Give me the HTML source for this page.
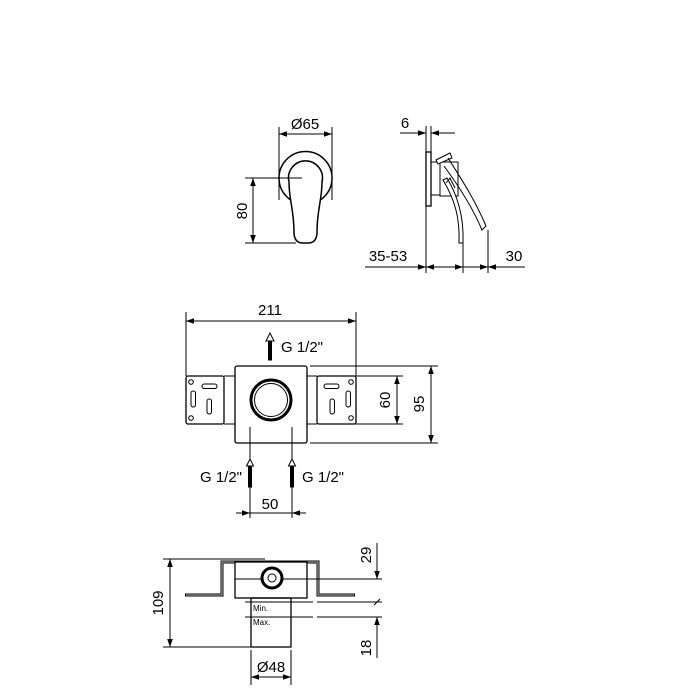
<!DOCTYPE html>
<html><head><style>body{margin:0;background:#fff}svg{display:block}text{font-family:"Liberation Sans",sans-serif;fill:#000}</style></head><body>
<svg width="700" height="700" viewBox="0 0 700 700" xmlns="http://www.w3.org/2000/svg">
<defs>
<marker id="a" viewBox="0 0 10 10" refX="10" refY="5" markerWidth="8" markerHeight="8" orient="auto-start-reverse" markerUnits="userSpaceOnUse"><path d="M0,1.5 L10,5 L0,8.5 z" fill="#000"/></marker>
</defs>
<g stroke="#000" fill="none" stroke-width="1">
<line x1="279" y1="127" x2="279" y2="200"/><line x1="332" y1="127" x2="332" y2="200"/>
<line x1="279" y1="134" x2="332" y2="134" marker-start="url(#a)" marker-end="url(#a)"/>
<circle cx="305.5" cy="178" r="26.5" stroke-width="1.5"/>
<path d="M294,232 C294,210 289,200 289,182 A17,17 0 1 1 322,182 C322,200 317,210 317,232 Q317,243 308,243 L303,243 Q294,243 294,232 Z" fill="#fff" stroke-width="1.5"/>
<line x1="245" y1="178" x2="302" y2="178"/><line x1="245" y1="243" x2="296" y2="243"/>
<line x1="253" y1="178" x2="253" y2="243" marker-start="url(#a)" marker-end="url(#a)"/>
<rect x="426" y="152" width="5" height="54" stroke-width="1.3"/>
<rect x="431" y="162" width="9" height="33"/>
<rect x="440" y="162" width="18" height="34"/>
<path d="M436,160 L450,153 L452,158 L438,164 Z" fill="#fff"/>
<path d="M448,158 C462,180 475,200 486,226 L482,230 C472,206 458,185 444,166" fill="none"/>
<path d="M443,180 C455,200 460,218 459,243 L463,243 C464,215 457,195 447,178 Z" fill="#fff"/>
<path d="M446,183 L450,178 L455,188" />
<line x1="426" y1="126" x2="426" y2="152"/><line x1="431" y1="126" x2="431" y2="152"/>
<line x1="400" y1="133" x2="426" y2="133" marker-end="url(#a)"/><line x1="455" y1="133" x2="431" y2="133" marker-end="url(#a)"/>
<line x1="426" y1="206" x2="426" y2="273"/><line x1="463" y1="243" x2="463" y2="273"/><line x1="488" y1="230" x2="488" y2="273"/>
<line x1="365" y1="267" x2="426" y2="267" marker-end="url(#a)"/>
<line x1="426" y1="267" x2="463" y2="267" marker-start="url(#a)" marker-end="url(#a)"/>
<line x1="463" y1="267" x2="488" y2="267" marker-end="url(#a)"/>
<line x1="525" y1="267" x2="488" y2="267" marker-end="url(#a)"/>
<line x1="186" y1="312" x2="186" y2="376"/><line x1="356" y1="312" x2="356" y2="376"/>
<line x1="186" y1="321" x2="356" y2="321" marker-start="url(#a)" marker-end="url(#a)"/>
<rect x="235" y="366" width="72" height="77" rx="2" stroke-width="1.3"/>
<rect x="186" y="376" width="38" height="48" rx="2" stroke-width="1.3"/>
<rect x="317" y="376" width="39" height="48" rx="2" stroke-width="1.3"/>
<line x1="224" y1="376" x2="235" y2="376"/><line x1="224" y1="424" x2="235" y2="424"/>
<line x1="307" y1="376" x2="317" y2="376"/><line x1="307" y1="424" x2="317" y2="424"/>
<circle cx="271" cy="400" r="20" stroke-width="3"/><circle cx="271" cy="400" r="16.5"/>
<circle cx="191" cy="382" r="2.3"/><circle cx="191" cy="418" r="2.3"/>
<rect x="202" y="384" width="15" height="4.5" rx="2.2"/>
<rect x="191" y="391" width="4.5" height="16" rx="2.2"/><rect x="207" y="399" width="4.5" height="15" rx="2.2"/>
<circle cx="351" cy="382" r="2.3"/><circle cx="351" cy="418" r="2.3"/>
<rect x="324" y="384" width="15" height="4.5" rx="2.2"/>
<rect x="346" y="391" width="4.5" height="16" rx="2.2"/><rect x="330" y="399" width="4.5" height="15" rx="2.2"/>
<line x1="318" y1="376" x2="403" y2="376"/><line x1="318" y1="424" x2="403" y2="424"/>
<line x1="397" y1="376" x2="397" y2="424" marker-start="url(#a)" marker-end="url(#a)"/>
<line x1="310" y1="366" x2="438" y2="366"/><line x1="310" y1="443" x2="438" y2="443"/>
<line x1="431" y1="366" x2="431" y2="443" marker-start="url(#a)" marker-end="url(#a)"/>
<line x1="250" y1="427" x2="250" y2="518"/><line x1="292" y1="427" x2="292" y2="518"/>
<line x1="236" y1="513" x2="250" y2="513" marker-end="url(#a)"/><line x1="306" y1="513" x2="292" y2="513" marker-end="url(#a)"/>
<line x1="250" y1="513" x2="292" y2="513"/>
</g>
<g stroke="#000" stroke-width="1">
<rect x="268.5" y="340" width="3" height="20" fill="#000"/>
<path d="M266,341 L270,333 L274,341 Z" fill="#fff"/>
<rect x="248.5" y="466" width="3" height="21" fill="#000"/>
<path d="M246.5,466 L250,459 L253.5,466 Z" fill="#fff"/>
<rect x="290.5" y="466" width="3" height="21" fill="#000"/>
<path d="M288.5,466 L292,459 L295.5,466 Z" fill="#fff"/>
</g>
<g stroke="#000" fill="none" stroke-width="1">
<line x1="163" y1="559" x2="265" y2="559"/><line x1="163" y1="647" x2="251" y2="647"/>
<line x1="170" y1="559" x2="170" y2="647" marker-start="url(#a)" marker-end="url(#a)"/>
<path d="M185,595 L222,595 L222,562 L318,562 L318,595 L355,595" stroke-width="3"/>
<path d="M186,595 L222,595 L222,562 L318,562 L318,595 L354,595" stroke="#fff" stroke-width="0.8"/>
<rect x="235" y="562" width="72" height="36" fill="#fff" stroke-width="1.3"/>
<line x1="235" y1="579" x2="382" y2="579"/>
<circle cx="272" cy="578" r="10" stroke-width="3" fill="#fff"/><circle cx="272" cy="578" r="4"/>
<rect x="251" y="598" width="40" height="49" stroke-width="1.3"/>
<line x1="245" y1="602" x2="313" y2="602"/><line x1="317" y1="602" x2="382" y2="602"/>
<line x1="245" y1="617" x2="313" y2="617"/><line x1="317" y1="617" x2="382" y2="617"/>
<line x1="377" y1="543" x2="377" y2="579" marker-end="url(#a)"/>
<line x1="377" y1="658" x2="377" y2="617" marker-end="url(#a)"/>
<line x1="374" y1="605" x2="380" y2="599"/>
<line x1="251" y1="650" x2="251" y2="685"/><line x1="291" y1="650" x2="291" y2="685"/>
<line x1="251" y1="677" x2="291" y2="677" marker-start="url(#a)" marker-end="url(#a)"/>
</g>
<g font-size="15">
<text x="305" y="129" text-anchor="middle">Ø65</text>
<text x="247" y="211" text-anchor="middle" transform="rotate(-90 247 211)">80</text>
<text x="405" y="128" text-anchor="middle">6</text>
<text x="388" y="261" text-anchor="middle">35-53</text>
<text x="514" y="261" text-anchor="middle">30</text>
<text x="270" y="315" text-anchor="middle">211</text>
<text x="281" y="352">G 1/2"</text>
<text x="390" y="400" text-anchor="middle" transform="rotate(-90 390 400)">60</text>
<text x="424" y="404" text-anchor="middle" transform="rotate(-90 424 404)">95</text>
<text x="242" y="482" text-anchor="end">G 1/2"</text>
<text x="302" y="482">G 1/2"</text>
<text x="270" y="509" text-anchor="middle">50</text>
<text x="163" y="603" text-anchor="middle" transform="rotate(-90 163 603)">109</text>
<text x="371" y="555" text-anchor="middle" transform="rotate(-90 371 555)">29</text>
<text x="371" y="648" text-anchor="middle" transform="rotate(-90 371 648)">18</text>
<text x="271" y="672" text-anchor="middle">Ø48</text>
</g>
<text x="253" y="611" font-size="8">Min.</text>
<text x="253" y="625" font-size="8">Max.</text>
</svg>
</body></html>
